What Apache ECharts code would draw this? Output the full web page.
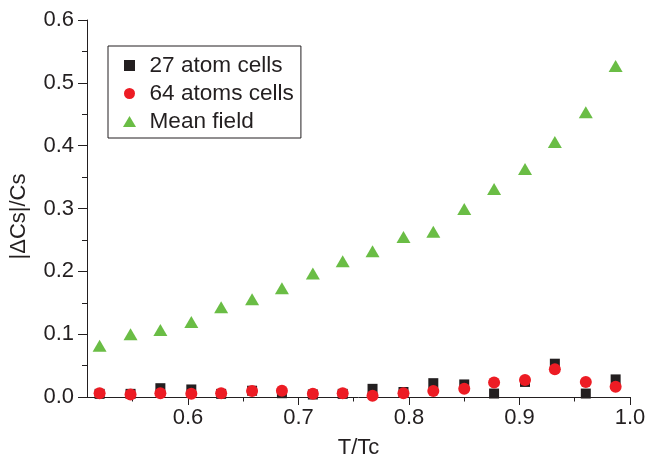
<!DOCTYPE html>
<html>
<head>
<meta charset="utf-8">
<script src="https://cdn.jsdelivr.net/npm/echarts@6/dist/echarts.min.js"></script>
<style>html,body{margin:0;padding:0;background:#fff}#c{width:647px;height:458px}</style>
</head>
<body>
<div id="c"></div>
<script>
const tOverTc = [0.520,0.548,0.575,0.603,0.630,0.658,0.685,0.713,0.740,0.767,0.795,0.822,0.850,0.877,0.905,0.932,0.960,0.987];
const cells27 = [0.005,0.005,0.014,0.012,0.005,0.010,0.006,0.004,0.005,0.013,0.008,0.022,0.020,0.0055,0.024,0.053,0.0055,0.028];
const cells64 = [0.006,0.004,0.006,0.005,0.006,0.0095,0.010,0.005,0.006,0.002,0.006,0.0095,0.013,0.023,0.027,0.044,0.024,0.0165];
const meanField = [0.0815,0.100,0.1066,0.1194,0.1427,0.1557,0.1732,0.1966,0.2162,0.2318,0.2547,0.2631,0.2992,0.331,0.3629,0.4059,0.453,0.5268];
const xMajorTicks = [0.6,0.7,0.8,0.9,1.0];
const xMinorTicks = [0.55,0.65,0.75,0.85,0.95];
const seriesNames = ['27 atom cells','64 atoms cells','Mean field'];

const FONT = 'Liberation Sans, Arial, Helvetica, sans-serif';
const INK = '#231f20';
const pairs = ys => tOverTc.map((x,i)=>[x, ys[i]]);

const chart = echarts.init(document.getElementById('c'), null, {renderer:'canvas'});
chart.setOption({
  animation:false,
  backgroundColor:'#ffffff',
  textStyle:{fontFamily:FONT},
  grid:{left:87,right:17,top:20,bottom:61,outerBoundsMode:'none',containLabel:false},
  legend:{
    orient:'vertical', left:108, top:46,
    padding:[8,7,5,15],
    itemWidth:30, itemHeight:11, itemGap:5,
    borderColor:INK, borderWidth:1,
    textStyle:{fontSize:22.6,color:INK,fontFamily:FONT,lineHeight:22},
    data:[
      {name:seriesNames[0], icon:'path://M0,0H10V10H0Z'},
      {name:seriesNames[1], icon:'circle'},
      {name:seriesNames[2], icon:'path://M6.5,0L13,11H0Z'}
    ]
  },
  xAxis:[{
    type:'value', min:0.5086, max:1.0,
    name:'T/Tc', nameLocation:'middle', nameGap:40,
    nameTextStyle:{fontSize:22,color:INK,fontFamily:FONT},
    axisLine:{show:true,onZero:false,lineStyle:{color:INK,width:1}},
    axisTick:{show:true,customValues:xMajorTicks,length:8,lineStyle:{color:INK}},
    axisLabel:{customValues:xMajorTicks,fontSize:22,color:INK,margin:10,fontFamily:FONT,
      formatter:v=>v.toFixed(1)},
    splitLine:{show:false}
  },{
    type:'value', min:0.5086, max:1.0, position:'bottom',
    axisLine:{show:false},
    axisTick:{show:true,customValues:xMinorTicks,length:4.5,lineStyle:{color:INK}},
    axisLabel:{show:false},
    splitLine:{show:false}
  }],
  yAxis:{
    type:'value', min:0, max:0.6, interval:0.1,
    name:'|\u0394Cs|/Cs', nameLocation:'middle', nameGap:57, nameRotate:90,
    nameTextStyle:{fontSize:22,color:INK,fontFamily:FONT,padding:[0,16,0,0]},
    axisLine:{show:true,onZero:false,lineStyle:{color:INK,width:1}},
    axisTick:{show:true,length:9,lineStyle:{color:INK}},
    minorTick:{show:true,splitNumber:2,length:5,lineStyle:{color:INK}},
    axisLabel:{fontSize:22,color:INK,margin:13,fontFamily:FONT,formatter:v=>v.toFixed(1)},
    splitLine:{show:false}
  },
  series:[
    {name:seriesNames[0],type:'scatter',data:pairs(cells27),symbol:'rect',symbolSize:10,
     itemStyle:{color:INK,opacity:1},clip:false},
    {name:seriesNames[1],type:'scatter',data:pairs(cells64),symbol:'circle',symbolSize:12,
     itemStyle:{color:'#ed1c24',opacity:1},clip:false},
    {name:seriesNames[2],type:'scatter',data:pairs(meanField),symbol:'triangle',symbolSize:[14,12],
     itemStyle:{color:'#6abd45',opacity:1},clip:false}
  ]
});
</script>
</body>
</html>
